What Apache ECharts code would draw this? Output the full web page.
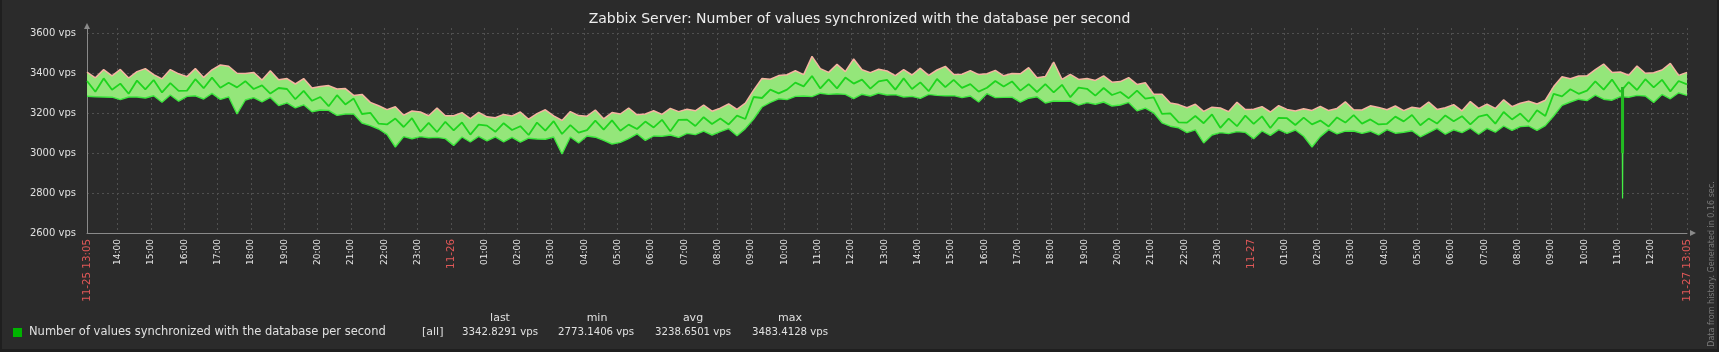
<!DOCTYPE html>
<html>
<head>
<meta charset="utf-8">
<script src="https://cdn.jsdelivr.net/npm/echarts@6/dist/echarts.min.js"></script>
<style>
  html, body { margin: 0; padding: 0; background: #2b2b2b; }
  #chart { width: 1719px; height: 352px; }
  #frame {
    position: absolute; left: 0; top: 0; width: 1719px; height: 352px;
    box-sizing: border-box; pointer-events: none;
    border-left: 2px solid #1f1f1f; border-right: 2px solid #1f1f1f; border-bottom: 3px solid #1f1f1f;
  }
</style>
</head>
<body>
<div id="chart"></div>
<div id="frame"></div>
<script>
// one sample every 15 minutes, starting 11-25 13:05
const stepMinutes = 15;

const avgValues = [
  3360,3306,3373,3316,3347,3296,3362,3318,3365,3303,3349,3311,
  3312,3369,3324,3377,3326,3351,3328,3359,3320,3338,3297,3325,
  3320,3269,3311,3261,3280,3234,3289,3243,3272,3195,3201,3147,
  3143,3172,3130,3174,3106,3151,3105,3156,3113,3153,3092,3142,
  3137,3106,3149,3115,3134,3090,3152,3112,3159,3095,3139,3102,
  3114,3162,3117,3163,3111,3142,3120,3157,3128,3166,3109,3166,
  3167,3135,3179,3145,3172,3143,3187,3170,3280,3275,3317,3298,
  3317,3352,3333,3385,3323,3368,3323,3377,3347,3367,3322,3358,
  3366,3317,3373,3320,3353,3309,3370,3329,3366,3326,3344,3307,
  3326,3360,3332,3358,3312,3344,3305,3344,3303,3341,3279,3327,
  3321,3287,3325,3290,3305,3274,3312,3272,3278,3196,3198,3153,
  3152,3185,3149,3193,3126,3172,3134,3187,3146,3183,3125,3176,
  3174,3140,3177,3143,3162,3133,3178,3152,3189,3147,3168,3143,
  3146,3182,3158,3190,3139,3172,3147,3188,3159,3184,3143,3182,
  3192,3147,3205,3168,3197,3156,3214,3185,3296,3283,3319,3296,
  3312,3358,3317,3367,3306,3354,3315,3369,3328,3366,3308,3360,
  3343
];

const minValues = [
  3284,3281,3280,3279,3267,3280,3280,3275,3286,3254,3290,3259,
  3283,3286,3270,3298,3268,3281,3195,3265,3277,3256,3278,3237,
  3251,3226,3241,3206,3215,3213,3188,3195,3195,3150,3137,3120,
  3093,3030,3082,3071,3082,3076,3078,3072,3038,3080,3055,3083,
  3061,3081,3056,3078,3054,3074,3070,3069,3080,2995,3080,3050,
  3085,3079,3063,3045,3053,3072,3096,3063,3085,3084,3090,3078,
  3098,3092,3109,3090,3107,3122,3086,3122,3170,3230,3253,3271,
  3267,3283,3285,3282,3299,3293,3296,3293,3272,3294,3285,3299,
  3290,3292,3280,3283,3273,3293,3288,3286,3287,3277,3285,3255,
  3297,3277,3278,3279,3254,3274,3281,3250,3260,3259,3260,3239,
  3252,3244,3255,3235,3240,3253,3211,3224,3201,3151,3134,3126,
  3102,3116,3050,3090,3102,3097,3107,3103,3071,3110,3088,3117,
  3098,3115,3084,3030,3082,3117,3096,3109,3110,3098,3109,3091,
  3117,3099,3104,3111,3081,3102,3123,3094,3116,3102,3124,3094,
  3123,3104,3135,3113,3132,3135,3113,3137,3185,3238,3255,3269,
  3262,3289,3269,3264,3282,3279,3288,3285,3253,3293,3271,3301,
  3288
];

const maxValues = [
  3404,3376,3417,3386,3418,3375,3407,3422,3392,3371,3417,3396,
  3382,3422,3378,3416,3440,3434,3399,3397,3403,3365,3411,3366,
  3372,3345,3372,3325,3332,3337,3320,3322,3288,3293,3253,3236,
  3217,3231,3189,3210,3205,3186,3225,3186,3186,3202,3172,3203,
  3181,3176,3193,3185,3205,3169,3197,3216,3186,3163,3207,3187,
  3184,3215,3171,3202,3195,3225,3191,3195,3211,3193,3223,3207,
  3219,3211,3240,3209,3224,3246,3218,3249,3314,3373,3369,3387,
  3391,3411,3392,3483,3422,3403,3443,3407,3470,3416,3402,3419,
  3410,3387,3417,3390,3424,3388,3415,3433,3393,3394,3412,3392,
  3396,3413,3386,3397,3396,3427,3376,3382,3455,3368,3393,3368,
  3373,3363,3386,3354,3357,3377,3343,3351,3294,3294,3250,3242,
  3226,3244,3208,3229,3225,3207,3254,3217,3219,3232,3205,3237,
  3218,3210,3221,3213,3233,3212,3223,3256,3216,3215,3236,3228,
  3216,3235,3212,3229,3223,3255,3218,3226,3242,3211,3257,3223,
  3244,3223,3266,3232,3249,3259,3245,3264,3332,3381,3371,3385,
  3386,3417,3445,3403,3405,3389,3435,3399,3401,3415,3448,3388,
  3403
];

// short drop on 11-27 around 11:09 (minutes from start, value)
const dropLine = [[2763, 3330], [2764, 2773], [2765, 3330]];
const dropCore = [[2764, 3330], [2764, 3000]];

const yTicks = [2600, 2800, 3000, 3200, 3400, 3600];

const xTickLabels = [
  '11-25 13:05',
  '14:00','15:00','16:00','17:00','18:00','19:00','20:00','21:00','22:00','23:00',
  '11-26','01:00','02:00','03:00','04:00','05:00','06:00','07:00','08:00','09:00','10:00','11:00',
  '12:00','13:00','14:00','15:00','16:00','17:00','18:00','19:00','20:00','21:00','22:00','23:00',
  '11-27','01:00','02:00','03:00','04:00','05:00','06:00','07:00','08:00','09:00','10:00','11:00',
  '12:00',
  '11-27 13:05'
];

const legendName = 'Number of values synchronized with the database per second';
const statNames = ['last', 'min', 'avg', 'max'];
const statValues = ['3342.8291 vps', '2773.1406 vps', '3238.6501 vps', '3483.4128 vps'];

const totalMinutes = 2880;
// first label at start, then full hours (13:05 + 55 min = 14:00), last at end
const xTickMinutes = xTickLabels.map((l, i) =>
  i === 0 ? 0 : (i === xTickLabels.length - 1 ? totalMinutes : 55 + (i - 1) * 60));

const minData = minValues.map((v, i) => [i * stepMinutes, v]);
const maxData = maxValues.map((v, i) => [i * stepMinutes, v]);
const avgData = avgValues.map((v, i) => [i * stepMinutes, v]);

const chart = echarts.init(document.getElementById('chart'));
const font = 'DejaVu Sans';

// filled min..max band, one polygon through the axis scales
function renderBand(params, api) {
  const upper = maxData.map((p) => api.coord(p));
  const lower = minData.map((p) => api.coord(p)).reverse();
  return {
    type: 'polygon',
    shape: { points: upper.concat(lower) },
    style: { fill: '#94e67a' }
  };
}

const option = {
  animation: false,
  backgroundColor: '#2b2b2b',
  textStyle: { fontFamily: font },
  title: {
    text: 'Zabbix Server: Number of values synchronized with the database per second',
    left: 'center',
    top: 7,
    textStyle: { color: '#eeeeee', fontSize: 14, fontWeight: 'normal', fontFamily: font }
  },
  grid: { left: 87, right: 32, top: 28, bottom: 119, containLabel: false },
  xAxis: {
    type: 'value',
    min: 0,
    max: totalMinutes,
    axisLine: {
      lineStyle: { color: '#8a8a8a', width: 1 },
      symbol: ['none', 'triangle'],
      symbolSize: [6, 6],
      symbolOffset: [0, 6]
    },
    axisTick: { show: false, customValues: xTickMinutes },
    splitLine: { show: true, lineStyle: { color: '#505050', type: [2, 3], width: 1 } },
    axisLabel: {
      customValues: xTickMinutes,
      rotate: 90,
      margin: 6,
      showMinLabel: true,
      showMaxLabel: true,
      formatter: (v) => {
        const label = xTickLabels[xTickMinutes.indexOf(v)];
        if (label === undefined) return '';
        return label.indexOf('-') >= 0 ? '{d|' + label + '}' : '{h|' + label + '}';
      },
      rich: {
        d: { color: '#e05858', fontSize: 10.3, fontFamily: font },
        h: { color: '#e8e8e8', fontSize: 9, fontFamily: font }
      }
    }
  },
  yAxis: {
    type: 'value',
    min: 2600,
    max: 3625,
    axisLine: {
      show: true,
      lineStyle: { color: '#8a8a8a', width: 1 },
      symbol: ['none', 'triangle'],
      symbolSize: [6, 6],
      symbolOffset: [0, 2]
    },
    axisTick: { show: false, customValues: yTicks },
    splitLine: { show: true, lineStyle: { color: '#505050', type: [2, 3], width: 1 } },
    axisLabel: {
      customValues: yTicks,
      margin: 11,
      color: '#e0e0e0',
      fontSize: 10,
      fontFamily: font,
      formatter: (v) => v + ' vps'
    }
  },
  series: [
    {
      type: 'custom',
      name: 'band',
      data: [[0, 0]],
      renderItem: renderBand,
      z: 1,
      silent: true
    },
    {
      type: 'line',
      name: 'max',
      data: maxData,
      symbol: 'none',
      z: 2,
      lineStyle: { color: '#f6b4a2', width: 1.5 }
    },
    {
      type: 'line',
      name: 'min',
      data: minData,
      symbol: 'none',
      z: 3,
      lineStyle: { color: '#3ee83e', width: 1.4 }
    },
    {
      type: 'line',
      name: 'avg',
      data: avgData,
      symbol: 'none',
      z: 4,
      lineStyle: { color: '#1ed41e', width: 1.8 }
    },
    {
      type: 'line',
      name: 'drop',
      data: dropLine,
      symbol: 'none',
      z: 5,
      lineStyle: { color: '#44ee44', width: 1.2 }
    },
    {
      type: 'line',
      name: 'dropCore',
      data: dropCore,
      symbol: 'none',
      z: 5,
      lineStyle: { color: '#22bb22', width: 3 }
    }
  ],
  graphic: [
    { type: 'rect', left: 13, top: 328, shape: { width: 9, height: 9 }, style: { fill: '#00b400' } },
    { type: 'text', x: 29, y: 332, style: { text: legendName, fill: '#e0e0e0', font: '11.5px "DejaVu Sans"', verticalAlign: 'middle' } },
    { type: 'text', x: 422, y: 332, style: { text: '[all]', fill: '#e0e0e0', font: '11px "DejaVu Sans"', verticalAlign: 'middle' } }
  ].concat(
    statNames.map((n, i) => ({
      type: 'text', x: [500, 597, 693, 790][i], y: 318,
      style: { text: n, fill: '#e0e0e0', font: '11px "DejaVu Sans"', align: 'center', verticalAlign: 'middle' }
    })),
    statValues.map((s, i) => ({
      type: 'text', x: [462, 558, 655, 752][i], y: 332,
      style: { text: s, fill: '#e0e0e0', font: '10.2px "DejaVu Sans"', verticalAlign: 'middle' }
    })),
    [{
      type: 'text', x: 1712, y: 264, rotation: Math.PI / 2,
      style: { text: 'Data from history. Generated in 0.16 sec.', fill: '#7a7a7a', font: '8px "DejaVu Sans"', align: 'center', verticalAlign: 'middle' }
    }]
  )
};

chart.setOption(option);
</script>
</body>
</html>
